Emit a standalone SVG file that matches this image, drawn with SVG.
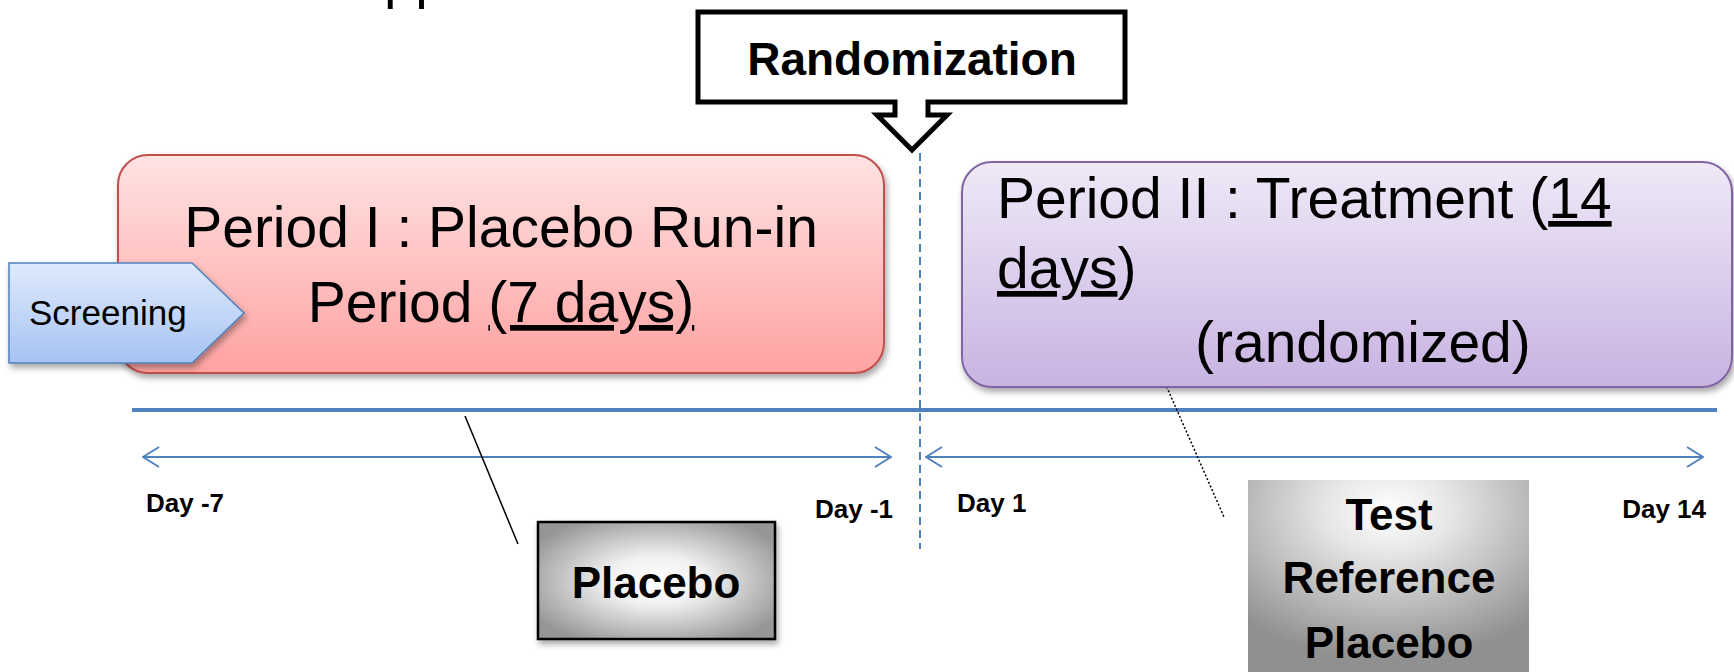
<svg xmlns="http://www.w3.org/2000/svg" width="1734" height="672" viewBox="0 0 1734 672">
<style>
  text { font-family: "Liberation Sans", Arial, sans-serif; fill: #000; }
  .big { font-size: 57px; }
  .bold { font-weight: bold; }
  .day { font-size: 26px; font-weight: bold; }
  .drug { font-size: 44px; font-weight: bold; text-anchor: middle; }
  .axis { stroke: #4F81BD; fill: none; }
</style>
<defs>
  <linearGradient id="gRed" x1="0" y1="0" x2="0" y2="1">
    <stop offset="0" stop-color="#FFE3E3"/>
    <stop offset="1" stop-color="#FFA2A2"/>
  </linearGradient>
  <linearGradient id="gPurple" x1="0" y1="0" x2="0" y2="1">
    <stop offset="0" stop-color="#EFE9F7"/>
    <stop offset="1" stop-color="#C8B3E2"/>
  </linearGradient>
  <linearGradient id="gBlue" x1="0" y1="0" x2="0" y2="1">
    <stop offset="0" stop-color="#DFEAFC"/>
    <stop offset="1" stop-color="#A6C3F3"/>
  </linearGradient>
  <radialGradient id="gGray" cx="0.5" cy="0.5" r="0.6">
    <stop offset="0" stop-color="#FFFFFF"/>
    <stop offset="0.35" stop-color="#F0F0F0"/>
    <stop offset="1" stop-color="#969696"/>
  </radialGradient>
  <radialGradient id="gGray2" cx="0.5" cy="0.15" r="0.75">
    <stop offset="0" stop-color="#FFFFFF"/>
    <stop offset="0.3" stop-color="#E6E6E6"/>
    <stop offset="1" stop-color="#909090"/>
  </radialGradient>
  <filter id="shadow" x="-10%" y="-10%" width="120%" height="130%">
    <feDropShadow dx="2" dy="4" stdDeviation="3" flood-color="#000" flood-opacity="0.35"/>
  </filter>
  <marker id="chev" viewBox="0 0 18 22" refX="17" refY="11" markerWidth="18" markerHeight="22" markerUnits="userSpaceOnUse" orient="auto-start-reverse">
    <path d="M1,1 L17,11 L1,21" fill="none" stroke="#4F81BD" stroke-width="2"/>
  </marker>
</defs>

<!-- cut-off text at top -->
<text x="384" y="-3" style="font-size:56px">pp</text>

<g id="connectors">
  <line class="axis" x1="132" y1="410" x2="1717" y2="410" stroke-width="4"/>
  <line class="axis" x1="920" y1="153" x2="920" y2="549" stroke-width="2" stroke-dasharray="8,5"/>
  <line class="axis" x1="143" y1="457" x2="891" y2="457" stroke-width="2" marker-start="url(#chev)" marker-end="url(#chev)"/>
  <line class="axis" x1="926" y1="457" x2="1703" y2="457" stroke-width="2" marker-start="url(#chev)" marker-end="url(#chev)"/>
  <line x1="465" y1="416" x2="518" y2="544" stroke="#000" stroke-width="1.5"/>
  <line x1="1165" y1="383" x2="1224" y2="517" stroke="#000" stroke-width="1.5" stroke-dasharray="2,2"/>
</g>

<g id="randomization">
  <path d="M698,12 H1125 V102 H928 V115 H947 L912,150 L877,115 H895 V102 H698 Z" fill="#FFFFFF" stroke="#000" stroke-width="5" stroke-linejoin="miter"/>
  <text x="912" y="75" class="bold" style="font-size:46px" text-anchor="middle">Randomization</text>
</g>

<g id="period1">
  <rect x="118" y="155" width="766" height="218" rx="30" ry="30" fill="url(#gRed)" stroke="#C0504D" stroke-width="2" filter="url(#shadow)"/>
  <text x="501" y="247" class="big" text-anchor="middle">Period I : Placebo Run-in</text>
  <text x="501" y="322" class="big" text-anchor="middle">Period <tspan text-decoration="underline">(7 days)</tspan></text>
</g>

<g id="screening">
  <polygon points="9,263 192,263 244,313 192,363 9,363" fill="url(#gBlue)" stroke="#4F81BD" stroke-width="1.5" filter="url(#shadow)"/>
  <text x="29" y="325" style="font-size:35px">Screening</text>
</g>

<g id="period2">
  <rect x="962" y="162" width="770" height="225" rx="30" ry="30" fill="url(#gPurple)" stroke="#8064A2" stroke-width="2" filter="url(#shadow)"/>
  <text x="997" y="218" class="big">Period II : Treatment (<tspan text-decoration="underline">14</tspan></text>
  <text x="997" y="288" class="big"><tspan text-decoration="underline">days</tspan>)</text>
  <text x="1195" y="362" class="big">(randomized)</text>
</g>

<g id="days">
  <text x="146" y="512" class="day">Day -7</text>
  <text x="815" y="518" class="day">Day -1</text>
  <text x="957" y="512" class="day">Day 1</text>
  <text x="1706" y="518" class="day" text-anchor="end">Day 14</text>
</g>

<g id="placebo">
  <rect x="538" y="522" width="237" height="117" fill="url(#gGray)" stroke="#000" stroke-width="2.5" filter="url(#shadow)"/>
  <text x="656" y="598" class="drug">Placebo</text>
</g>

<g id="treatments">
  <rect x="1248" y="480" width="281" height="200" fill="url(#gGray2)"/>
  <text x="1389" y="530" class="drug">Test</text>
  <text x="1389" y="593" class="drug">Reference</text>
  <text x="1389" y="658" class="drug">Placebo</text>
</g>
</svg>
